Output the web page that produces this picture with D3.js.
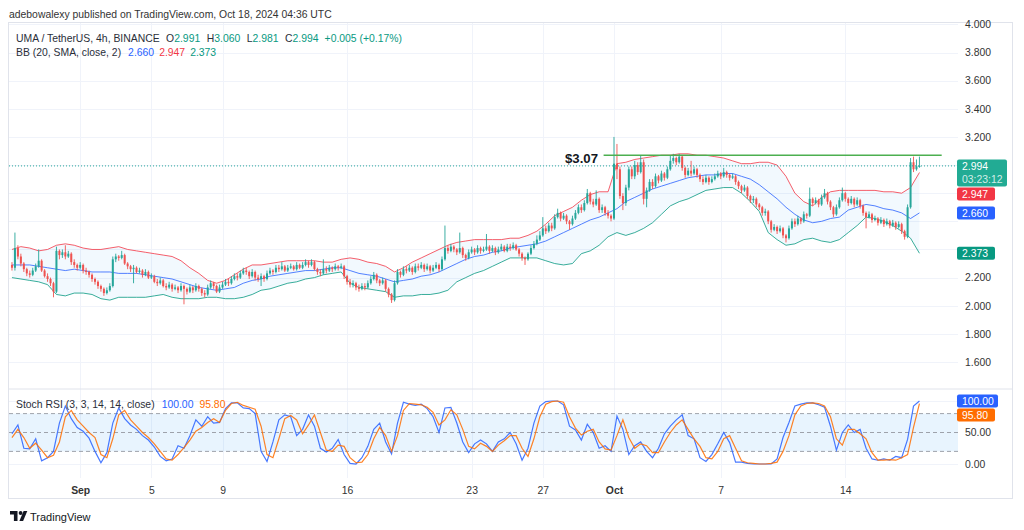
<!DOCTYPE html>
<html>
<head>
<meta charset="utf-8">
<script src="https://cdn.jsdelivr.net/npm/d3@7"></script>
<style>
  body { margin: 0; background: #fff; }
  svg { font-family: "Liberation Sans", Arial, sans-serif; }
</style>
</head>
<body>
<svg id="chart" width="1024" height="530"></svg>
<script>
// ---- data (4h candles from Aug 28 04:00 UTC) ----
const firstOpen = 2.29;
const close = [
  2.27,2.41,2.35,2.30,2.26,
  2.23,2.22,2.25,2.28,2.32,2.25, 2.21,2.19,2.16,2.10,2.39,2.36, 2.38,2.35,2.37,2.31,2.29,2.27,
  2.29,2.25,2.24,2.22,2.19,2.17, 2.14,2.12,2.09,2.11,2.14,2.33, 2.35,2.34,2.36,2.30,2.28,2.26,
  2.27,2.24,2.25,2.22,2.24,2.20, 2.21,2.17,2.16,2.18,2.14,2.13, 2.15,2.12,2.13,2.11,2.14,2.12,
  2.10,2.13,2.11,2.14,2.12,2.09, 2.08,2.13,2.16,2.14,2.10,2.13, 2.15,2.17,2.16,2.19,2.21,2.20,
  2.23,2.25,2.24,2.21,2.24,2.20, 2.19,2.21,2.19,2.23,2.25,2.24, 2.27,2.26,2.28,2.25,2.27,2.28,
  2.26,2.29,2.27,2.29,2.31,2.29, 2.31,2.26,2.24,2.23,2.26,2.25, 2.27,2.26,2.28,2.27,2.28,2.21,
  2.17,2.15,2.16,2.13,2.12,2.14, 2.13,2.16,2.19,2.22,2.18,2.16, 2.18,2.12,2.08,2.04,2.16,2.24,
  2.22,2.26,2.25,2.27,2.24,2.28, 2.27,2.29,2.26,2.28,2.25,2.27, 2.29,2.26,2.33,2.41,2.39,2.42,
  2.40,2.38,2.41,2.36,2.34,2.38, 2.40,2.38,2.41,2.39,2.40,2.42, 2.39,2.41,2.38,2.40,2.42,2.39,
  2.42,2.41,2.43,2.40,2.37,2.34, 2.33,2.37,2.41,2.44,2.47,2.50, 2.55,2.53,2.57,2.55,2.63,2.66,
  2.62,2.64,2.60,2.58,2.62,2.66, 2.70,2.68,2.73,2.80,2.74,2.72, 2.76,2.68,2.70,2.66,2.64,2.62,
  3.01,2.97,2.78,2.73,2.84,2.97, 2.92,3.00,2.95,3.02,2.76,2.82, 2.88,2.85,2.92,2.89,2.94,2.91,
  2.97,3.03,3.05,3.02,3.06,2.98, 2.93,2.96,2.94,2.97,2.93,2.90, 2.88,2.91,2.88,2.90,2.92,2.94,
  2.92,2.95,2.93,2.91,2.92,2.88, 2.85,2.82,2.84,2.78,2.75,2.76, 2.72,2.70,2.66,2.67,2.60,2.54,
  2.56,2.53,2.55,2.50,2.48,2.55, 2.60,2.58,2.62,2.60,2.65,2.64, 2.76,2.73,2.75,2.72,2.77,2.80,
  2.74,2.70,2.65,2.70,2.75,2.80, 2.76,2.73,2.76,2.72,2.75,2.71, 2.66,2.63,2.65,2.61,2.62,2.59,
  2.61,2.58,2.60,2.57,2.59,2.56, 2.58,2.53,2.49,2.70,3.02,2.97,
  2.991,2.994
];
const high = [
  2.31,2.52,2.43,2.37,2.31,
  2.27,2.25,2.27,2.30,2.40,2.33, 2.26,2.23,2.20,2.17,2.42,2.40, 2.40,2.43,2.39,2.38,2.33,2.30,
  2.31,2.30,2.27,2.25,2.23,2.20, 2.18,2.15,2.13,2.13,2.16,2.35, 2.37,2.36,2.39,2.37,2.31,2.29,
  2.29,2.28,2.27,2.26,2.26,2.25, 2.23,2.22,2.19,2.20,2.19,2.16, 2.17,2.16,2.15,2.14,2.16,2.15,
  2.13,2.15,2.14,2.16,2.15,2.13, 2.11,2.15,2.18,2.17,2.15,2.15, 2.17,2.19,2.19,2.21,2.23,2.23,
  2.25,2.27,2.27,2.25,2.26,2.25, 2.22,2.23,2.22,2.25,2.27,2.26, 2.29,2.29,2.31,2.29,2.29,2.30,
  2.29,2.31,2.30,2.31,2.33,2.32, 2.33,2.32,2.27,2.26,2.33,2.28, 2.29,2.28,2.30,2.29,2.30,2.29,
  2.22,2.19,2.18,2.17,2.15,2.16, 2.16,2.18,2.21,2.24,2.23,2.19, 2.20,2.19,2.13,2.09,2.18,2.26,
  2.25,2.28,2.28,2.29,2.28,2.30, 2.30,2.31,2.30,2.30,2.29,2.29, 2.31,2.30,2.35,2.57,2.43,2.44,
  2.43,2.41,2.52,2.42,2.37,2.40, 2.42,2.41,2.43,2.42,2.42,2.51, 2.43,2.43,2.42,2.42,2.44,2.43,
  2.44,2.44,2.45,2.44,2.41,2.38, 2.35,2.38,2.43,2.46,2.50,2.53, 2.63,2.57,2.59,2.59,2.65,2.69,
  2.67,2.66,2.65,2.61,2.64,2.68, 2.72,2.72,2.75,2.83,2.81,2.76, 2.82,2.77,2.72,2.71,2.68,2.65,
  3.20,3.15,2.99,2.80,2.86,2.99, 2.99,3.03,3.02,3.07,3.04,2.84, 2.90,2.90,2.94,2.93,2.96,2.95,
  2.99,3.07,3.08,3.06,3.08,3.07, 2.99,2.98,3.03,2.99,2.98,2.94, 2.92,2.93,2.92,2.92,2.94,2.96,
  2.95,2.98,2.96,2.94,2.94,2.93, 2.89,2.86,2.86,2.85,2.79,2.78, 2.77,2.73,2.71,2.69,2.68,2.61,
  2.58,2.57,2.57,2.56,2.51,2.57, 2.62,2.62,2.64,2.63,2.67,2.66, 2.84,2.77,2.77,2.76,2.79,2.83,
  2.81,2.75,2.71,2.72,2.77,2.84, 2.81,2.77,2.78,2.77,2.77,2.76, 2.72,2.67,2.67,2.66,2.64,2.63,
  2.63,2.62,2.62,2.61,2.61,2.60, 2.60,2.59,2.54,2.72,3.05,3.06,
  3.04,3.060
];
const low = [
  2.25,2.25,2.33,2.28,2.24,
  2.21,2.20,2.21,2.24,2.27,2.24, 2.20,2.17,2.14,2.06,2.09,2.33, 2.34,2.33,2.34,2.29,2.27,2.25,
  2.26,2.23,2.22,2.20,2.17,2.15, 2.12,2.10,2.07,2.08,2.10,2.13, 2.31,2.32,2.33,2.29,2.26,2.24,
  2.16,2.23,2.23,2.20,2.21,2.19, 2.19,2.16,2.14,2.15,2.13,2.11, 2.12,2.10,2.11,2.09,2.10,2.01,
  2.08,2.09,2.09,2.10,2.10,2.07, 2.06,2.07,2.12,2.12,2.09,2.09, 2.12,2.14,2.14,2.15,2.18,2.18,
  2.19,2.22,2.22,2.19,2.20,2.18, 2.17,2.14,2.17,2.18,2.22,2.22, 2.23,2.24,2.25,2.24,2.24,2.26,
  2.25,2.25,2.26,2.26,2.28,2.27, 2.28,2.25,2.22,2.21,2.22,2.23, 2.24,2.24,2.25,2.25,2.26,2.19,
  2.15,2.13,2.13,2.11,2.10,2.11, 2.11,2.12,2.15,2.18,2.16,2.14, 2.15,2.10,2.06,2.02,2.03,2.15,
  2.20,2.21,2.23,2.24,2.22,2.23, 2.25,2.26,2.24,2.25,2.23,2.24, 2.26,2.24,2.25,2.32,2.37,2.38,
  2.38,2.36,2.37,2.34,2.32,2.33, 2.37,2.36,2.37,2.37,2.38,2.39, 2.37,2.38,2.36,2.37,2.39,2.38,
  2.38,2.39,2.40,2.39,2.35,2.32, 2.29,2.32,2.36,2.40,2.43,2.46, 2.49,2.51,2.52,2.53,2.54,2.62,
  2.60,2.61,2.58,2.54,2.57,2.61, 2.65,2.66,2.67,2.72,2.72,2.70, 2.71,2.66,2.66,2.64,2.62,2.60,
  2.61,2.90,2.76,2.68,2.71,2.82, 2.90,2.90,2.93,2.94,2.72,2.70, 2.81,2.83,2.84,2.87,2.88,2.89,
  2.90,2.96,3.01,3.00,3.01,2.96, 2.91,2.92,2.92,2.93,2.91,2.88, 2.86,2.87,2.86,2.87,2.89,2.91,
  2.90,2.91,2.91,2.89,2.90,2.86, 2.83,2.80,2.81,2.76,2.73,2.73, 2.70,2.68,2.64,2.64,2.58,2.52,
  2.53,2.51,2.52,2.48,2.45,2.47, 2.54,2.56,2.57,2.58,2.59,2.62, 2.63,2.71,2.72,2.70,2.71,2.76,
  2.72,2.68,2.63,2.64,2.69,2.74, 2.74,2.71,2.72,2.70,2.71,2.69, 2.64,2.55,2.62,2.59,2.60,2.57,
  2.58,2.56,2.57,2.55,2.56,2.54, 2.55,2.51,2.47,2.48,2.69,2.95,
  2.96,2.981
];

// Bollinger Bands (20, 2), read every 12h
const bbUpper = [
  2.40,2.42,2.41,2.39,2.40,2.43,2.44,2.43,2.41,2.40,
  2.40,2.41,2.42,2.40,2.39,2.38,2.37,2.36,2.35,2.32,
  2.27,2.23,2.18,2.16,2.18,2.22,2.26,2.29,2.29,2.30,
  2.31,2.32,2.32,2.32,2.32,2.31,2.31,2.33,2.34,2.33,
  2.31,2.30,2.28,2.24,2.27,2.31,2.34,2.37,2.40,2.43,
  2.45,2.46,2.47,2.47,2.47,2.47,2.48,2.48,2.50,2.53,
  2.58,2.64,2.67,2.70,2.75,2.79,2.81,2.81,3.01,3.02,
  3.04,3.05,3.06,3.07,3.07,3.08,3.08,3.07,3.07,3.06,
  3.05,3.03,3.01,3.01,3.02,3.02,3.00,2.92,2.80,2.74,
  2.71,2.77,2.81,2.82,2.82,2.82,2.82,2.82,2.81,2.81,
  2.80,2.84,2.947
];
const bbBasis = [
  2.29,2.29,2.29,2.28,2.27,2.26,2.25,2.26,2.25,2.24,
  2.24,2.24,2.23,2.23,2.23,2.22,2.21,2.20,2.19,2.17,
  2.15,2.13,2.12,2.11,2.12,2.13,2.16,2.18,2.19,2.21,
  2.22,2.23,2.24,2.25,2.25,2.26,2.27,2.27,2.25,2.23,
  2.22,2.21,2.19,2.17,2.18,2.19,2.21,2.22,2.24,2.27,
  2.30,2.33,2.35,2.36,2.38,2.39,2.41,2.42,2.43,2.44,
  2.46,2.49,2.52,2.55,2.58,2.61,2.63,2.66,2.69,2.74,
  2.77,2.80,2.83,2.85,2.87,2.89,2.91,2.92,2.93,2.93,
  2.94,2.94,2.92,2.90,2.86,2.81,2.76,2.70,2.65,2.61,
  2.59,2.60,2.62,2.63,2.68,2.70,2.72,2.71,2.69,2.68,
  2.66,2.62,2.660
];
const bbLower = [
  2.20,2.19,2.18,2.17,2.15,2.08,2.07,2.09,2.09,2.08,
  2.05,2.04,2.06,2.06,2.06,2.06,2.07,2.08,2.06,2.05,
  2.05,2.05,2.06,2.06,2.05,2.05,2.06,2.08,2.11,2.12,
  2.14,2.16,2.17,2.19,2.20,2.22,2.23,2.24,2.16,2.13,
  2.12,2.11,2.10,2.06,2.07,2.07,2.08,2.08,2.09,2.11,
  2.17,2.20,2.23,2.25,2.28,2.31,2.34,2.34,2.34,2.34,
  2.32,2.30,2.29,2.30,2.37,2.39,2.43,2.49,2.52,2.50,
  2.52,2.55,2.59,2.65,2.71,2.74,2.76,2.79,2.82,2.83,
  2.84,2.84,2.80,2.74,2.67,2.52,2.47,2.43,2.44,2.47,
  2.48,2.46,2.45,2.47,2.52,2.57,2.63,2.62,2.60,2.57,
  2.53,2.48,2.373
];

// Stoch RSI (3, 3, 14, 14), read every 8h
const stochK = [
  48,62,25,24,40,5,10,20,65,92,
  72,58,52,41,20,2,18,65,89,72,
  62,55,45,38,27,12,5,8,29,25,
  45,70,60,75,65,66,88,97,97,89,
  88,80,20,4,35,70,78,75,45,55,
  78,60,25,19,25,39,15,1,0,10,
  28,55,65,35,16,65,98,95,93,95,
  88,75,50,89,90,65,35,18,32,38,
  32,20,35,40,50,32,6,25,65,92,
  99,100,100,94,60,54,38,63,50,25,
  29,20,76,55,15,29,35,20,10,25,
  48,60,70,78,45,40,10,4,15,32,
  50,34,3,3,1,0,0,0,0,8,
  42,66,92,95,97,97,94,90,60,22,
  50,62,50,55,25,8,6,8,6,12,
  10,39,92,100
];
const stochD = [
  42,55,42,25,33,22,10,14,35,75,
  85,70,60,50,42,15,10,40,78,85,
  70,60,50,42,32,20,8,6,15,26,
  38,52,58,66,72,66,85,96,98,93,
  90,87,60,15,10,40,72,77,70,48,
  62,78,50,22,20,30,28,10,2,3,
  15,40,58,45,20,45,85,96,95,94,
  90,82,62,70,86,78,55,28,24,33,
  28,20,30,37,45,45,25,12,40,75,
  95,99,100,98,75,57,46,52,55,35,
  24,22,45,70,42,25,32,29,18,18,
  35,50,62,70,55,40,28,10,8,20,
  40,45,25,5,2,1,0,0,1,3,
  20,45,78,92,96,97,96,92,75,40,
  30,55,55,48,40,18,6,6,7,6,
  10,15,58,95.8
];

const priceTicks = [1.6, 1.8, 2.0, 2.2, 2.4, 2.6, 2.8, 3.0, 3.2, 3.4, 3.6, 3.8, 4.0];
const stochTicks = [0, 50, 100];
const stochLevels = [20, 50, 80];
const dayTicks = ["2024-09-01", "2024-09-05", "2024-09-09", "2024-09-16", "2024-09-23", "2024-09-27", "2024-10-01", "2024-10-07", "2024-10-14"];
const dayLabels = ["Sep", "5", "9", "16", "23", "27", "Oct", "7", "14"];
const lastOHLC = [2.991, 3.060, 2.981, 2.994];
const change = ["+0.005", "(+0.17%)"];
const resistance = 3.07;
const resistanceSpan = ["2024-09-30T10:00Z", "2024-10-19T10:00Z"];
const countdown = "03:23:12";

// ---- layout ----
const svg = d3.select("#chart");
const left = 9, right = 958;
const HOUR = 3600e3;
const t0 = Date.UTC(2024, 7, 28, 4);

const x = d3.scaleUtc()
  .domain([new Date(Date.UTC(2024, 7, 28, 0)), new Date(Date.UTC(2024, 9, 20, 8))])
  .range([left, right]);
const y = d3.scaleLinear().domain([1.6, 4.0]).range([362, 24.4]);
const ys = d3.scaleLinear().domain([0, 100]).range([464, 401]);

const green = "#26a69a", red = "#ef5350";
const fmt3 = d3.format(".3f"), fmt2 = d3.format(".2f");
const last = a => a[a.length - 1];

const candles = close.map((c, i) => ({
  t: new Date(t0 + i * 4 * HOUR),
  o: i ? close[i - 1] : firstOpen,
  h: high[i], l: low[i], c: c
}));
const bands = bbUpper.map((u, k) => ({
  t: new Date(t0 + k * 12 * HOUR), u: u, m: bbBasis[k], l: bbLower[k]
}));
const stoch = stochK.map((k, j) => ({
  t: new Date(t0 + j * 8 * HOUR), k: k, d: stochD[j]
}));

// header
svg.append("text").attr("x", 9).attr("y", 18)
  .attr("font-size", "10.4px").attr("fill", "#333")
  .text("adebowalexy published on TradingView.com, Oct 18, 2024 04:36 UTC");

// clips for the two panes
svg.append("clipPath").attr("id", "pane")
  .append("rect").attr("x", left).attr("y", 23).attr("width", right - left).attr("height", 365.5);
svg.append("clipPath").attr("id", "spane")
  .append("rect").attr("x", left).attr("y", 389.5).attr("width", right - left).attr("height", 89);

// grid
const grid = svg.append("g").attr("stroke", "#f0f3fa").attr("stroke-width", 1);
grid.selectAll(".hg").data(priceTicks).join("line")
  .attr("x1", left).attr("x2", right)
  .attr("y1", d => Math.round(y(d)) + 0.5).attr("y2", d => Math.round(y(d)) + 0.5);
grid.selectAll(".sg").data([0, 100]).join("line")
  .attr("x1", left).attr("x2", right)
  .attr("y1", d => Math.round(ys(d)) + 0.5).attr("y2", d => Math.round(ys(d)) + 0.5);
grid.selectAll(".vg").data(dayTicks).join("line")
  .attr("x1", d => Math.round(x(new Date(d))) + 0.5).attr("x2", d => Math.round(x(new Date(d))) + 0.5)
  .attr("y1", 23).attr("y2", 478);

// bollinger bands
const pane = svg.append("g").attr("clip-path", "url(#pane)");
pane.append("path").datum(bands)
  .attr("fill", "rgba(33,150,243,0.06)")
  .attr("d", d3.area().x(d => x(d.t)).y0(d => y(d.l)).y1(d => y(d.u)));
const bbLine = key => d3.line().x(d => x(d.t)).y(d => y(d[key]));
pane.append("path").datum(bands).attr("fill", "none").attr("stroke", "#f23645")
  .attr("stroke-width", 1).attr("stroke-opacity", 0.8).attr("d", bbLine("u"));
pane.append("path").datum(bands).attr("fill", "none").attr("stroke", "#2962ff")
  .attr("stroke-width", 1).attr("stroke-opacity", 0.8).attr("d", bbLine("m"));
pane.append("path").datum(bands).attr("fill", "none").attr("stroke", "#089981")
  .attr("stroke-width", 1).attr("stroke-opacity", 0.8).attr("d", bbLine("l"));

// candles
const cg = pane.append("g");
cg.selectAll("line").data(candles).join("line")
  .attr("x1", d => x(d.t)).attr("x2", d => x(d.t))
  .attr("y1", d => y(d.h)).attr("y2", d => y(d.l))
  .attr("stroke", d => d.c >= d.o ? green : red).attr("stroke-width", 0.9);
cg.selectAll("rect").data(candles).join("rect")
  .attr("x", d => x(d.t) - 1).attr("width", 2)
  .attr("y", d => y(Math.max(d.o, d.c)))
  .attr("height", d => Math.max(1, Math.abs(y(d.o) - y(d.c))))
  .attr("fill", d => d.c >= d.o ? green : red);

// current price dotted line
pane.append("line").attr("x1", left).attr("x2", right)
  .attr("y1", y(lastOHLC[3])).attr("y2", y(lastOHLC[3]))
  .attr("stroke", green).attr("stroke-dasharray", "1,2");

// resistance line + label
svg.append("line")
  .attr("x1", x(new Date(resistanceSpan[0]))).attr("x2", x(new Date(resistanceSpan[1])))
  .attr("y1", y(resistance)).attr("y2", y(resistance))
  .attr("stroke", "#4caf50").attr("stroke-width", 1.5);
svg.append("text").attr("x", 565).attr("y", y(resistance) + 7.5)
  .attr("font-size", "13.2px").attr("font-weight", "bold").attr("fill", "#131722")
  .text("$" + resistance.toFixed(2));

// stoch pane
const sp = svg.append("g").attr("clip-path", "url(#spane)");
sp.append("rect").attr("x", left).attr("width", right - left)
  .attr("y", ys(80)).attr("height", ys(20) - ys(80))
  .attr("fill", "rgba(33,150,243,0.1)");
sp.selectAll(".lvl").data(stochLevels).join("line")
  .attr("x1", left).attr("x2", right)
  .attr("y1", d => ys(d)).attr("y2", d => ys(d))
  .attr("stroke", "#9598a1").attr("stroke-width", 0.9).attr("stroke-dasharray", "4,3");
sp.append("path").datum(stoch).attr("fill", "none").attr("stroke", "#2962ff")
  .attr("stroke-width", 1.2).attr("stroke-opacity", 0.85)
  .attr("d", d3.line().x(d => x(d.t)).y(d => ys(d.k)));
sp.append("path").datum(stoch).attr("fill", "none").attr("stroke", "#ff6d00")
  .attr("stroke-width", 1.2).attr("stroke-opacity", 0.85)
  .attr("d", d3.line().x(d => x(d.t)).y(d => ys(d.d)));

// separator + frame
svg.append("line").attr("x1", 8).attr("x2", 1012).attr("y1", 389).attr("y2", 389)
  .attr("stroke", "#e0e3eb");
svg.append("rect").attr("x", 8.5).attr("y", 22.5).attr("width", 1004).attr("height", 476)
  .attr("fill", "none").attr("stroke", "#e0e3eb");

// legends
const leg1 = svg.append("text").attr("x", 16).attr("y", 41.5).attr("font-size", "10.4px").attr("fill", "#2a2e39");
leg1.append("tspan").text("UMA / TetherUS, 4h, BINANCE");
["O", "H", "L", "C"].forEach((k, i) => {
  leg1.append("tspan").attr("dx", 6.5).text(k);
  leg1.append("tspan").attr("fill", "#089981").text(fmt3(lastOHLC[i]));
});
leg1.append("tspan").attr("dx", 6).attr("fill", "#089981").text(change.join(" "));

const leg2 = svg.append("text").attr("x", 16).attr("y", 55.5).attr("font-size", "10.4px").attr("fill", "#2a2e39");
leg2.append("tspan").text("BB (20, SMA, close, 2)");
leg2.append("tspan").attr("dx", 7).attr("fill", "#2962ff").text(fmt3(last(bbBasis)));
leg2.append("tspan").attr("dx", 5).attr("fill", "#f23645").text(fmt3(last(bbUpper)));
leg2.append("tspan").attr("dx", 5).attr("fill", "#089981").text(fmt3(last(bbLower)));

const leg3 = svg.append("text").attr("x", 16).attr("y", 407.5).attr("font-size", "10.4px").attr("fill", "#2a2e39");
leg3.append("tspan").text("Stoch RSI (3, 3, 14, 14, close)");
leg3.append("tspan").attr("dx", 7).attr("fill", "#2962ff").text(fmt2(last(stochK)));
leg3.append("tspan").attr("dx", 6).attr("fill", "#ff6d00").text(fmt2(last(stochD)));

// axis value tags, pushed apart when they overlap
function layoutTags(tags) {
  let bottom = -Infinity;
  tags.forEach(tg => {
    tg.h = tg.lines.length > 1 ? 27 : 13;
    tg.top = Math.max(tg.y - 6.5, bottom + 1);
    bottom = tg.top + tg.h;
  });
  return tags;
}
const priceTags = layoutTags([
  { y: y(lastOHLC[3]), w: 50, color: "#22ab94", lines: [fmt3(lastOHLC[3]), countdown] },
  { y: y(last(bbUpper)), w: 38, color: "#f23645", lines: [fmt3(last(bbUpper))] },
  { y: y(last(bbBasis)), w: 38, color: "#2962ff", lines: [fmt3(last(bbBasis))] },
  { y: y(last(bbLower)), w: 38, color: "#089981", lines: [fmt3(last(bbLower))] }
]);
const stochTags = layoutTags([
  { y: ys(last(stochK)), w: 41, color: "#2962ff", lines: [fmt2(last(stochK))] },
  { y: ys(last(stochD)), w: 38, color: "#ff6d00", lines: [fmt2(last(stochD))] }
]);
// axis labels that sit under a tag are hidden, as on the reference
const free = (tags, py) => !tags.some(tg => py + 5 > tg.top && py - 5 < tg.top + tg.h);

// price axis
const pAxis = svg.append("g").attr("transform", `translate(${right},0)`)
  .call(d3.axisRight(y).tickValues(priceTicks.filter(v => free(priceTags, y(v))))
    .tickFormat(fmt3).tickSize(0).tickPadding(7));
pAxis.select(".domain").remove();
pAxis.selectAll("text").attr("font-size", "10.4px").attr("fill", "#333").attr("font-family", null);

const sAxis = svg.append("g").attr("transform", `translate(${right},0)`)
  .call(d3.axisRight(ys).tickValues(stochTicks.filter(v => free(stochTags, ys(v))))
    .tickFormat(fmt2).tickSize(0).tickPadding(7));
sAxis.select(".domain").remove();
sAxis.selectAll("text").attr("font-size", "10.4px").attr("fill", "#333").attr("font-family", null);

// time axis
const tAxis = svg.append("g").attr("transform", "translate(0,482)")
  .call(d3.axisBottom(x).tickValues(dayTicks.map(d => new Date(d))).tickFormat((d, i) => dayLabels[i]).tickSize(0).tickPadding(5));
tAxis.select(".domain").remove();
tAxis.selectAll("text").attr("font-size", "10.4px").attr("fill", "#333").attr("font-family", null)
  .attr("font-weight", (d, i) => /[A-Za-z]/.test(dayLabels[i]) ? "bold" : null);

function drawTags(tags) {
  tags.forEach(tg => {
    const g = svg.append("g");
    g.append("rect").attr("x", 957).attr("y", tg.top).attr("width", tg.w).attr("height", tg.h)
      .attr("rx", 2).attr("fill", tg.color);
    tg.lines.forEach((s, i) => {
      g.append("text").attr("x", 962).attr("y", tg.top + 10.3 + i * 13.5)
        .attr("font-size", "10.4px").attr("fill", i ? "rgba(255,255,255,0.8)" : "#fff").text(s);
    });
  });
}
drawTags(priceTags);
drawTags(stochTags);

// footer logo
const logo = svg.append("g").attr("fill", "#131722");
logo.append("path").attr("d", "M10,511h7.5v10h-3.6v-6.4h-3.9z");
logo.append("circle").attr("cx", 20.6).attr("cy", 513).attr("r", 1.9);
logo.append("path").attr("d", "M23.6,511h3.7l-4.2,10h-3.7z");
svg.append("text").attr("x", 30).attr("y", 520.5).attr("font-size", "11px").attr("fill", "#131722")
  .text("TradingView");
</script>
</body>
</html>
